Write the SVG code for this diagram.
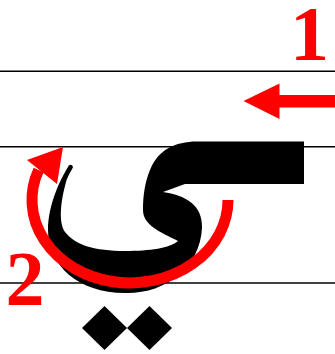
<svg xmlns="http://www.w3.org/2000/svg" width="335" height="354" viewBox="0 0 335 354">
  <style>
    .guide { stroke: #000; stroke-width: 1.5; fill: none; }
    .ink { fill: #000; }
    .red { fill: #ff0000; }
  </style>
  <rect width="335" height="354" fill="#fff"/>
  <g id="guides">
    <line class="guide" x1="0" y1="71.2" x2="335" y2="71.2"/>
    <line class="guide" x1="0" y1="146.8" x2="335" y2="146.8"/>
    <line class="guide" x1="0" y1="283" x2="335" y2="283"/>
  </g>
  <g id="letter">
    <path class="ink" d="M 304 141.5 L 197 141.5 C 175 141.5, 158 150, 150 170 C 145 182, 143 195, 143 210 C 143 225, 160 232, 178 241 C 170 248, 150 251, 125 251 C 95 251, 75 245, 65 232 C 58 222, 61 200, 66 182 C 68 175, 72 170, 73 167 C 72 164, 69 164, 68 167 C 60 180, 48 205, 48 230 C 48 265, 78 293, 125 293 C 165 294, 200 268, 202 228 C 203 205, 185 195, 163 192 L 185 184 L 304 184 Z"/>
  </g>
  <g id="dots">
    <polygon class="ink" points="104.5,306 127,328 104.5,350 82,328"/>
    <polygon class="ink" points="149.5,306 172,328 149.5,350 127,328"/>
  </g>
  <g id="stroke1">
    <polygon class="red" points="243.5,101 279.5,83.5 279.5,95 335,95 335,107.5 279.5,107.5 279.5,119"/>
    <text x="290" y="60" fill="#ff0000" font-family="Liberation Serif, DejaVu Serif, serif" font-weight="bold" font-size="78">1</text>
  </g>
  <g id="stroke2">
    <path d="M 228 200 A 98 83 0 1 1 38.6 170" fill="none" stroke="#ff0000" stroke-width="11"/>
    <polygon class="red" points="63,147 27,160 57,184"/>
    <text x="5.5" y="304.5" fill="#ff0000" font-family="Liberation Serif, DejaVu Serif, serif" font-weight="bold" font-size="78">2</text>
  </g>
</svg>
